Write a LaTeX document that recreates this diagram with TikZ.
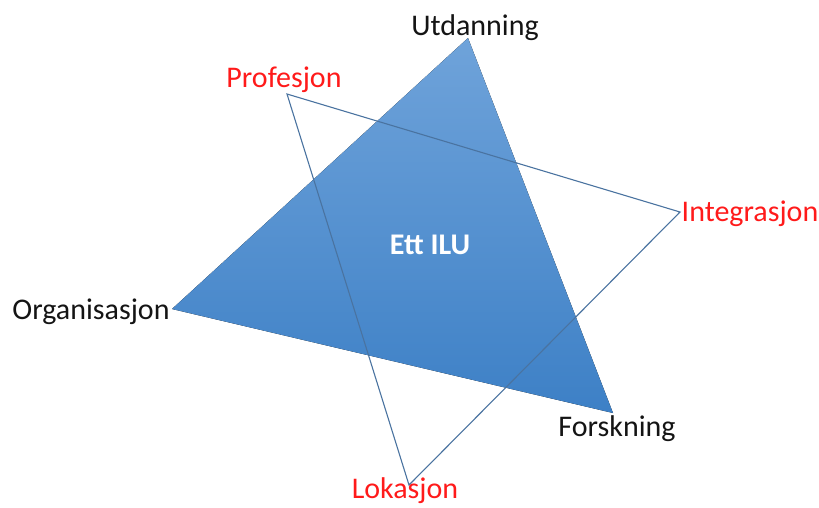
\documentclass[tikz,border=0pt]{standalone}
\usepackage{fontspec}
\setmainfont{Carlito}
\usepackage{xcolor}
\usetikzlibrary{calc}
\definecolor{iluLight}{HTML}{6FA3DA}
\definecolor{iluDark}{HTML}{3D80C6}
\definecolor{iluLine}{HTML}{4A73A0}
\definecolor{iluRed}{HTML}{FF1A1A}
\definecolor{iluText}{HTML}{141414}

\begin{document}
\begin{tikzpicture}[
                    x = 1pt, y = -1pt, % pixel grid, y downwards
                    font = \fontsize{30}{35}\selectfont,
                    semithick % line style
            ]

            \tikzstyle{corner}=[
                text = iluText,
                inner sep = 0pt
            ]
            \tikzstyle{redcorner}=[
                corner,
                text = iluRed
            ]

            \useasboundingbox (0,0) rectangle (819,507);

            % corners of the filled triangle
            \coordinate (U) at (468,38);
            \coordinate (O) at (172,309);
            \coordinate (F) at (613,413);

            % corners of the open triangle
            \coordinate (P) at (287,94);
            \coordinate (I) at (680,212);
            \coordinate (L) at (409,485);

            \fill[top color = iluLight, bottom color = iluDark] (U) -- (F) -- (O) -- cycle;
            \draw[iluLine, line width = 1.1pt, line join = miter] (P) -- (I) -- (L) -- cycle;

            \node[corner] (Utd) at (475,28) {Utdanning};
            \node[corner] (Org) at (91,312) {Organisasjon};
            \node[corner] (For) at (617,429) {Forskning};
            \node[redcorner] (Pro) at (284,80) {Profesjon};
            \node[redcorner] (Int) at (750,214) {Integrasjon};
            \node[redcorner] (Lok) at (405,491) {Lokasjon};

            \node[text = white, font = \fontsize{30}{35}\selectfont\bfseries] (ILU) at (430,245) {Ett ILU};
        \end{tikzpicture}
\end{document}
